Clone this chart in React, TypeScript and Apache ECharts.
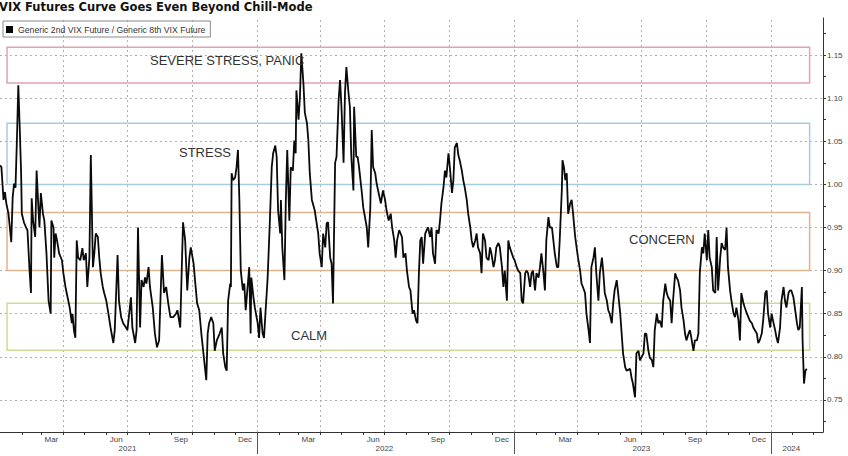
import React, { useEffect, useRef } from "react";
import * as echarts from "echarts";

const TITLE = "VIX Futures Curve Goes Even Beyond Chill-Mode";
const SERIES_NAME = "Generic 2nd VIX Future / Generic 8th VIX Future";
const START = Date.UTC(2021, 0, 1);
const DAY = 86400000;
const AXIS_END_DAY = 1169;
const Y_MIN = 0.7128;
const Y_MAX = 1.193;

// [days since 1 Jan 2021, 2nd/8th future ratio]
const ratioByDay: [number, number][] = [
  [0, 1.022], [2, 1.02], [5, 0.982], [7, 0.991], [9, 0.978], [12, 0.966], [14, 0.95], [16, 0.933], [18, 0.985], [20, 1.001],
  [22, 0.996], [24, 1.051], [26, 1.115], [28, 1.066], [30, 1.013], [31, 0.966], [34, 0.956], [37, 0.95], [39, 0.947], [42, 0.9],
  [44, 0.874], [45, 0.984], [47, 0.958], [50, 0.939], [52, 1.016], [54, 0.982], [56, 0.95], [58, 0.99], [61, 0.966], [63, 0.958],
  [66, 0.92], [69, 0.865], [72, 0.85], [73, 0.958], [76, 0.95], [77, 0.915], [79, 0.943], [81, 0.935], [84, 0.92], [88, 0.912],
  [90, 0.897], [93, 0.881], [97, 0.865], [99, 0.857], [102, 0.839], [103, 0.85], [105, 0.831], [107, 0.822], [109, 0.935], [111, 0.915],
  [114, 0.912], [117, 0.926], [119, 0.912], [122, 0.92], [124, 0.881], [127, 0.915], [129, 1.034], [132, 0.904], [134, 0.92], [136, 0.943],
  [139, 0.939], [141, 0.915], [143, 0.897], [146, 0.881], [148, 0.874], [151, 0.865], [154, 0.85], [157, 0.834], [161, 0.816], [163, 0.831],
  [167, 0.918], [169, 0.865], [172, 0.846], [175, 0.839], [179, 0.834], [181, 0.831], [186, 0.869], [188, 0.834], [192, 0.816], [194, 0.831],
  [196, 0.95], [199, 0.834], [201, 0.889], [204, 0.881], [206, 0.892], [208, 0.885], [211, 0.904], [213, 0.881], [217, 0.857], [220, 0.827],
  [223, 0.811], [226, 0.819], [230, 0.918], [233, 0.874], [236, 0.881], [239, 0.862], [242, 0.846], [246, 0.846], [250, 0.85], [252, 0.854],
  [256, 0.834], [258, 0.897], [260, 0.956], [263, 0.935], [266, 0.877], [269, 0.915], [271, 0.927], [275, 0.908], [277, 0.889], [280, 0.862],
  [283, 0.854], [286, 0.827], [290, 0.796], [293, 0.773], [295, 0.827], [297, 0.839], [300, 0.846], [303, 0.839], [305, 0.807], [308, 0.819],
  [312, 0.827], [315, 0.834], [317, 0.804], [320, 0.788], [322, 0.784], [324, 0.865], [327, 0.885], [328, 0.881], [329, 1.013], [331, 1.005],
  [334, 1.008], [336, 1.02], [338, 1.04], [340, 0.982], [342, 0.9], [345, 0.877], [347, 0.885], [349, 0.854], [351, 0.874], [354, 0.904],
  [356, 0.827], [357, 0.892], [360, 0.869], [362, 0.857], [366, 0.839], [368, 0.822], [370, 0.857], [373, 0.827], [375, 0.822], [377, 0.85],
  [380, 0.889], [383, 0.95], [386, 1.02], [388, 1.036], [391, 1.045], [393, 1.032], [395, 0.97], [398, 0.943], [399, 0.982], [401, 0.927],
  [404, 0.889], [406, 0.982], [408, 1.04], [411, 0.958], [413, 1.02], [416, 1.016], [418, 1.051], [420, 1.036], [421, 1.109], [424, 1.075],
  [426, 1.101], [428, 1.152], [431, 1.117], [433, 1.083], [436, 1.071], [438, 1.051], [440, 1.013], [443, 0.982], [447, 0.97], [452, 0.943],
  [454, 0.92], [457, 0.904], [459, 0.943], [462, 0.927], [464, 0.955], [466, 0.956], [469, 0.915], [471, 0.908], [473, 0.862], [476, 1.025],
  [478, 1.032], [481, 1.098], [483, 1.121], [485, 1.09], [488, 1.025], [490, 1.106], [492, 1.136], [495, 1.106], [497, 1.09], [499, 1.032],
  [502, 0.993], [503, 1.09], [506, 1.032], [508, 1.032], [510, 1.02], [514, 0.99], [516, 0.973], [521, 0.95], [523, 0.927], [526, 0.973],
  [528, 1.063], [530, 1.02], [533, 1.013], [535, 1.001], [537, 0.993], [541, 0.978], [544, 0.993], [547, 0.982], [549, 0.97], [552, 0.958],
  [555, 0.966], [557, 0.95], [560, 0.935], [562, 0.915], [564, 0.935], [567, 0.947], [571, 0.939], [573, 0.915], [576, 0.92], [578, 0.9],
  [581, 0.881], [583, 0.877], [586, 0.85], [588, 0.854], [591, 0.842], [593, 0.839], [595, 0.897], [597, 0.935], [599, 0.939], [601, 0.908],
  [604, 0.943], [606, 0.947], [608, 0.95], [611, 0.939], [613, 0.95], [615, 0.92], [618, 0.908], [620, 0.947], [623, 0.943], [625, 0.958],
  [627, 0.978], [630, 0.997], [632, 1.016], [634, 1.008], [637, 1.036], [639, 1.02], [642, 0.99], [644, 1.005], [646, 1.043], [649, 1.048],
  [651, 1.034], [653, 1.028], [656, 1.016], [658, 1.005], [660, 0.997], [663, 0.982], [665, 0.966], [668, 0.95], [670, 0.935], [672, 0.927],
  [675, 0.935], [677, 0.943], [679, 0.927], [682, 0.92], [684, 0.897], [686, 0.943], [689, 0.935], [691, 0.915], [694, 0.912], [696, 0.927],
  [698, 0.92], [701, 0.904], [703, 0.912], [705, 0.927], [708, 0.932], [710, 0.927], [713, 0.904], [715, 0.881], [717, 0.9], [720, 0.865],
  [722, 0.935], [724, 0.927], [727, 0.92], [729, 0.915], [731, 0.912], [734, 0.904], [736, 0.9], [739, 0.897], [741, 0.865], [743, 0.862],
  [746, 0.897], [748, 0.9], [750, 0.897], [753, 0.881], [755, 0.897], [757, 0.9], [760, 0.877], [762, 0.897], [765, 0.892], [767, 0.904],
  [769, 0.92], [772, 0.897], [774, 0.877], [776, 0.935], [779, 0.962], [781, 0.95], [784, 0.95], [786, 0.935], [788, 0.92], [791, 0.904],
  [793, 0.904], [795, 0.935], [798, 0.993], [799, 1.028], [801, 1.02], [803, 1.005], [805, 1.013], [807, 0.966], [810, 0.978], [812, 0.982],
  [814, 0.966], [817, 0.939], [819, 0.927], [821, 0.915], [824, 0.9], [826, 0.885], [828, 0.881], [831, 0.874], [833, 0.85], [836, 0.831],
  [838, 0.816], [840, 0.904], [843, 0.915], [845, 0.927], [847, 0.897], [850, 0.865], [852, 0.897], [855, 0.915], [857, 0.897], [859, 0.874],
  [862, 0.865], [864, 0.854], [866, 0.85], [869, 0.839], [871, 0.862], [873, 0.877], [876, 0.889], [878, 0.874], [881, 0.85], [883, 0.827],
  [885, 0.804], [888, 0.788], [890, 0.784], [895, 0.786], [897, 0.776], [899, 0.769], [902, 0.753], [904, 0.804], [907, 0.807], [909, 0.796],
  [911, 0.799], [914, 0.804], [916, 0.827], [918, 0.827], [921, 0.807], [923, 0.799], [926, 0.796], [928, 0.788], [930, 0.831], [933, 0.85],
  [935, 0.839], [937, 0.842], [940, 0.834], [942, 0.865], [945, 0.885], [947, 0.874], [949, 0.869], [952, 0.865], [954, 0.839], [956, 0.865],
  [959, 0.897], [961, 0.892], [963, 0.889], [966, 0.877], [968, 0.857], [971, 0.842], [973, 0.827], [975, 0.819], [978, 0.827], [980, 0.831],
  [982, 0.822], [985, 0.807], [987, 0.819], [990, 0.819], [992, 0.827], [994, 0.897], [997, 0.927], [999, 0.92], [1001, 0.943], [1004, 0.912],
  [1006, 0.947], [1008, 0.915], [1011, 0.904], [1013, 0.877], [1016, 0.874], [1018, 0.939], [1020, 0.877], [1023, 0.915], [1025, 0.932], [1027, 0.927],
  [1030, 0.924], [1032, 0.95], [1034, 0.904], [1037, 0.877], [1039, 0.865], [1042, 0.85], [1044, 0.846], [1046, 0.857], [1049, 0.842], [1051, 0.819],
  [1053, 0.874], [1056, 0.862], [1058, 0.857], [1061, 0.85], [1065, 0.842], [1068, 0.839], [1070, 0.834], [1075, 0.827], [1077, 0.816], [1079, 0.819],
  [1082, 0.827], [1084, 0.842], [1087, 0.874], [1089, 0.877], [1091, 0.85], [1094, 0.834], [1096, 0.85], [1098, 0.842], [1101, 0.831], [1103, 0.822],
  [1105, 0.816], [1108, 0.834], [1110, 0.865], [1113, 0.881], [1115, 0.865], [1117, 0.857], [1120, 0.874], [1122, 0.877], [1124, 0.877], [1127, 0.869],
  [1129, 0.857], [1132, 0.839], [1134, 0.831], [1136, 0.834], [1139, 0.881], [1140, 0.819], [1142, 0.769], [1144, 0.784], [1146, 0.786],
];

const yTickLabels = [0.75, 0.8, 0.85, 0.9, 0.95, 1.0, 1.05, 1.1, 1.15];
const yMinorTicks = [0.725, 0.75, 0.775, 0.8, 0.825, 0.85, 0.875, 0.9, 0.925, 0.95, 0.975, 1.0, 1.025, 1.05, 1.075, 1.1, 1.125, 1.15, 1.175];

const MONTH_NAMES = ["Jan", "Feb", "Mar", "Apr", "May", "Jun", "Jul", "Aug", "Sep", "Oct", "Nov", "Dec"];
const labelYears = [2021, 2022, 2023];
const labelMonths = [2, 5, 8, 11]; // Mar, Jun, Sep, Dec
const quarterMonths = [0, 3, 6, 9]; // gridlines at quarter starts
const yearLabels: [number, number, number][] = [[2021, 6, 1], [2022, 6, 1], [2023, 6, 1], [2024, 0, 30]];
const yearBoundaries = [2022, 2023, 2024];

// zone boxes: [label, low, high, color]
const zones: [string, number, number, string][] = [
  ["SEVERE STRESS, PANIC", 1.1175, 1.159, "#dfa3b3"],
  ["STRESS", 1.0, 1.071, "#a7cbe0"],
  ["CONCERN", 0.9, 0.9675, "#dcb48e"],
  ["CALM", 0.8075, 0.862, "#cddb95"],
];
const ZONE_START_DAY = 10;
const ZONE_END_DAY = 1150;

const zoneTextPos: Record<string, [number, number]> = {
  "SEVERE STRESS, PANIC": [150, 60],
  STRESS: [179, 152],
  CONCERN: [629, 239],
  CALM: [291, 335],
};

const dayOf = (y: number, m: number, d: number) => (Date.UTC(y, m, d) - START) / DAY;
const dateOf = (day: number) => new Date(START + Math.round(day) * DAY);

export default function App() {
  const ref = useRef<HTMLDivElement>(null);

  useEffect(() => {
    if (!ref.current) return;
    const chart = echarts.init(ref.current, undefined, { renderer: "svg" });

    const monthStarts: number[] = [];
    const quarterStarts: number[] = [];
    for (let y = 2021; y <= 2024; y++) {
      for (let m = 0; m < 12; m++) {
        const d = dayOf(y, m, 1);
        if (d > 0 && d <= AXIS_END_DAY) {
          monthStarts.push(d);
          if (quarterMonths.indexOf(m) >= 0) quarterStarts.push(d);
        }
      }
    }
    const monthLabelDays: number[] = [];
    labelYears.forEach((y) => labelMonths.forEach((m) => monthLabelDays.push(dayOf(y, m, 15))));
    const yearLabelDays = yearLabels.map(([y, m, d]) => dayOf(y, m, d));
    const yearTickDays = yearBoundaries.map((y) => dayOf(y, 0, 1));

    const gridSegments = yTickLabels.map((v) => ({ coords: [[0, v], [AXIS_END_DAY, v]] }));
    const gridColor = "#b0b0b0";
    const labelFont = "Liberation Sans, Arial, sans-serif";

    chart.setOption({
      animation: false,
      backgroundColor: "#ffffff",
      title: {
        text: TITLE,
        left: -1,
        top: 1,
        padding: 0,
        textStyle: { fontFamily: "DejaVu Sans", fontWeight: "bold", fontSize: 11.5, color: "#111" },
      },
      legend: {
        data: [SERIES_NAME],
        left: 3,
        top: 21,
        padding: [4, 5, 3, 3],
        borderColor: "#8a8a8a",
        borderWidth: 1,
        itemWidth: 7,
        itemHeight: 7,
        icon: "rect",
        selectedMode: false,
        textStyle: { fontSize: 8.7, fontFamily: labelFont, color: "#333" },
      },
      grid: { left: 0, right: 25, top: 18, bottom: 24 },
      xAxis: [
        {
          // month ticks and labels
          type: "value",
          position: "bottom",
          min: 0,
          max: AXIS_END_DAY,
          axisLine: { show: true, onZero: false, lineStyle: { color: "#333", width: 1 } },
          axisTick: { show: true, customValues: monthStarts, length: 3, lineStyle: { color: "#333" } },
          axisLabel: {
            customValues: monthLabelDays,
            formatter: (v: number) => MONTH_NAMES[dateOf(v).getUTCMonth()],
            fontSize: 8,
            fontFamily: labelFont,
            color: "#444",
            margin: 3,
            hideOverlap: false,
          },
          splitLine: { show: false },
        },
        {
          // year separators and labels
          type: "value",
          position: "bottom",
          min: 0,
          max: AXIS_END_DAY,
          axisLine: { show: false, onZero: false },
          axisTick: { show: true, customValues: yearTickDays, length: 22, lineStyle: { color: "#555" } },
          axisLabel: {
            customValues: yearLabelDays,
            formatter: (v: number) => String(dateOf(v).getUTCFullYear()),
            fontSize: 8,
            fontFamily: labelFont,
            color: "#444",
            margin: 12,
            hideOverlap: false,
          },
          splitLine: { show: false },
        },
      ],
      yAxis: {
        type: "value",
        position: "right",
        min: Y_MIN,
        max: Y_MAX,
        axisLine: { show: true, onZero: false, lineStyle: { color: "#333", width: 1 } },
        axisTick: { show: true, customValues: yMinorTicks, length: 3, lineStyle: { color: "#333" } },
        axisLabel: {
          customValues: yTickLabels,
          formatter: (v: number) => v.toFixed(2),
          fontSize: 8,
          fontFamily: labelFont,
          color: "#444",
          margin: 4,
        },
        splitLine: { show: false },
      },
      series: [
        {
          name: "gridlines",
          type: "lines",
          coordinateSystem: "cartesian2d",
          xAxisIndex: 0,
          yAxisIndex: 0,
          silent: true,
          z: 1,
          polyline: false,
          lineStyle: { color: gridColor, type: [2, 3], width: 1, opacity: 1, curveness: 0 },
          data: gridSegments,
        },
        {
          name: "quarter gridlines",
          type: "custom",
          coordinateSystem: "cartesian2d",
          xAxisIndex: 0,
          yAxisIndex: 0,
          silent: true,
          z: 1,
          clip: false,
          data: quarterStarts.map((d) => [d, Y_MIN]),
          encode: { x: 0, y: 1 },
          renderItem: (params: any, api: any) => {
            const d = api.value(0);
            const p1 = api.coord([d, Y_MIN]);
            const p2 = api.coord([d, Y_MAX]);
            const x = Math.round(p1[0]) + 0.5;
            return {
              type: "line",
              silent: true,
              shape: { x1: x, y1: p1[1], x2: x, y2: p2[1] },
              style: { stroke: gridColor, lineWidth: 1, lineDash: [2, 3], fill: null },
            };
          },
        },
        {
          name: SERIES_NAME,
          type: "line",
          xAxisIndex: 0,
          data: ratioByDay,
          showSymbol: false,
          symbol: "none",
          z: 4,
          lineStyle: { color: "#0a0a0a", width: 1.8 },
          itemStyle: { color: "#000" },
          emphasis: { disabled: true },
          markArea: {
            silent: true,
            z: 2,
            label: { show: false },
            data: zones.map(([, lo, hi, color]) => [
              {
                xAxis: ZONE_START_DAY,
                yAxis: hi,
                itemStyle: { color: "rgba(0,0,0,0)", borderColor: color, borderWidth: 1.5 },
              },
              { xAxis: ZONE_END_DAY, yAxis: lo },
            ]),
          },
        },
      ],
      graphic: zones.map(([label]) => ({
        type: "text",
        x: zoneTextPos[label][0],
        y: zoneTextPos[label][1],
        z: 10,
        silent: true,
        style: {
          text: label,
          fill: "#333",
          fontSize: 13,
          fontFamily: labelFont,
          verticalAlign: "middle",
        },
      })),
    });

    return () => chart.dispose();
  }, []);

  return (
    <div
      ref={ref}
      style={{ position: "absolute", left: 0, top: 0, width: 848, height: 456, background: "#fff" }}
    />
  );
}
